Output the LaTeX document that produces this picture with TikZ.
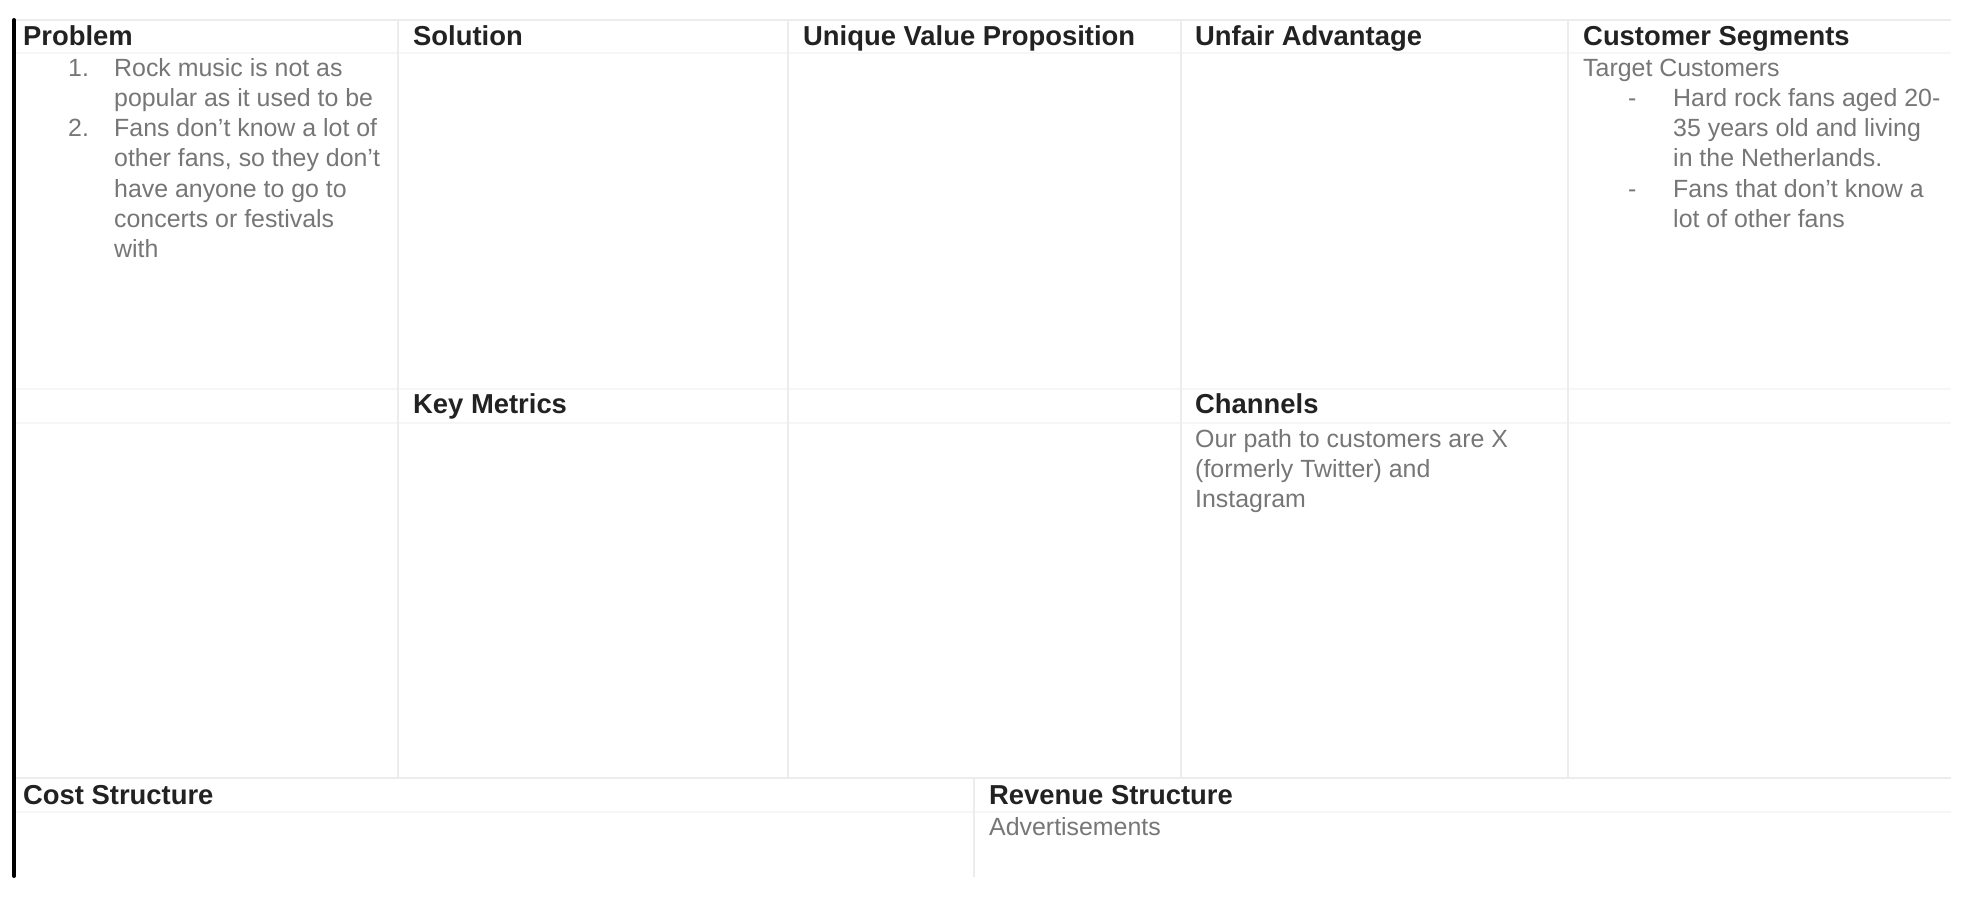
\documentclass[tikz,border=0pt]{standalone}
\usepackage{fontspec}
\setmainfont{Liberation Sans}
\usetikzlibrary{positioning}
\definecolor{headink}{HTML}{222222}
\definecolor{bodyink}{HTML}{767676}
\definecolor{rule}{HTML}{ECECEC}
\definecolor{faintrule}{HTML}{F6F6F6}

\begin{document}
\begin{tikzpicture}[x=1pt, y=-1pt,
    head/.style={anchor=base west, inner sep=0pt, text=headink, font=\bfseries\fontsize{27.4}{32}\selectfont},
    body/.style={anchor=base west, inner sep=0pt, text=bodyink, font=\fontsize{24.9}{30}\selectfont},
    cell/.style={draw=rule, line width=1.5pt},
    faint/.style={draw=faintrule, line width=1.5pt}]
                \useasboundingbox (0,0) rectangle (1988,904);

                % Grid
                \draw[faint] (14,53) -- (1951,53);
                \draw[faint] (14,389) -- (1951,389);
                \draw[faint] (14,423) -- (1951,423);
                \draw[faint] (14,812) -- (1951,812);
                \draw[cell] (14,20) -- (1951,20);
                \draw[cell] (14,778) -- (1951,778);
                \foreach \x in {398, 788, 1181, 1568}
                    \draw[cell] (\x,20) -- (\x,778);
                \draw[cell] (974,778) -- (974,877);
                \draw[line width=4pt, line cap=round] (14,20) -- (14,876);

                % Headers
                \node[head] (problem) at (23,46) {Problem};
                \node[head] (solution) at (413,46) {Solution};
                \node[head] (uvp) at (803,46) {Unique Value Proposition};
                \node[head] (unfair) at (1195,46) {Unfair Advantage};
                \node[head] (segments) at (1583,46) {Customer Segments};
                \node[head] (metrics) at (413,413) {Key Metrics};
                \node[head] (channels) at (1195,413) {Channels};
                \node[head] (cost) at (23,804) {Cost Structure};
                \node[head] (revenue) at (989,804) {Revenue Structure};

                % Problem list
                \node[body] (num1) at (68,77) {1.};
                \node[body] (num2) at (68,137) {2.};
                \foreach \t [count=\i from 0] in {Rock music is not as, popular as it used to be,
                        Fans don’t know a lot of, {other fans, so they don’t}, have anyone to go to,
                        concerts or festivals, with}
                    \node[body] (prob\i) at (114,{77+30*\i}) {\t};

                % Customer segments
                \node[body] (target) at (1583,77) {Target Customers};
                \node[body] (dash1) at (1628,107) {-};
                \node[body] (dash2) at (1628,197) {-};
                \foreach \t [count=\i from 0] in {Hard rock fans aged 20-, 35 years old and living,
                        in the Netherlands., Fans that don’t know a, lot of other fans}
                    \node[body] (seg\i) at (1673,{107+30*\i}) {\t};

                % Channels
                \foreach \t [count=\i from 0] in {Our path to customers are X,
                        (formerly Twitter) and, Instagram}
                    \node[body] (chan\i) at (1195,{447+30*\i}) {\t};

                % Revenue
                \node[body] (ads) at (989,835) {Advertisements};
\end{tikzpicture}
\end{document}
